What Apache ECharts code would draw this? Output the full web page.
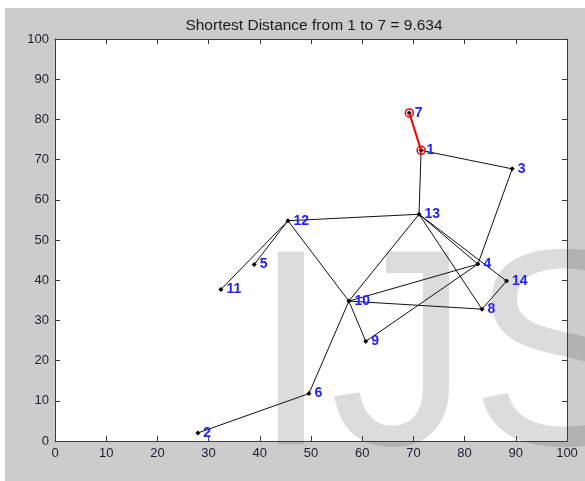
<!DOCTYPE html>
<html>
<head>
<meta charset="utf-8">
<script src="https://cdn.jsdelivr.net/npm/echarts@6/dist/echarts.min.js"></script>
<style>
  html, body { margin: 0; padding: 0; background: #fff; }
  #chart { position: absolute; left: 5px; top: 8px; width: 580px; height: 473px; background: #cccccc; }
</style>
</head>
<body>
<div id="chart"></div>
<script>
// node coordinates
const nodeNames = ['1', '2', '3', '4', '5', '6', '7', '8', '9', '10', '11', '12', '13', '14'];
const nodeX = [71.5, 27.9, 89.3, 82.6, 38.9, 49.6, 69.2, 83.4, 60.7, 57.4, 32.4, 45.5, 71.1, 88.2];
const nodeY = [72.3, 2.0, 67.7, 44.0, 43.9, 11.8, 81.6, 32.8, 24.8, 34.8, 37.7, 54.8, 56.4, 39.8];

// edges as pairs of node names
const edges = [
  ['1', '3'], ['1', '13'], ['1', '7'], ['3', '4'],
  ['13', '12'], ['13', '10'], ['13', '4'], ['13', '14'], ['13', '8'],
  ['12', '5'], ['12', '11'], ['12', '10'],
  ['4', '10'], ['4', '9'], ['10', '8'], ['10', '9'], ['10', '6'],
  ['8', '14'], ['6', '2']
];

// shortest path
const pathNodes = ['1', '7'];
const titleText = 'Shortest Distance from 1 to 7 = 9.634';
const tickLabels = ['0', '10', '20', '30', '40', '50', '60', '70', '80', '90', '100'];

const chart = echarts.init(document.getElementById('chart'), undefined, { renderer: 'canvas' });

const nodes = nodeNames.map((n, i) => ({ name: n, value: [nodeX[i], nodeY[i]] }));
const links = edges.map(e => ({ source: e[0], target: e[1] }));
const pathData = pathNodes.map(n => {
  const i = nodeNames.indexOf(n);
  return [nodeX[i], nodeY[i]];
});

const fontFam = '"Liberation Sans", Arial, sans-serif';
const axisCol = '#3a3a3a';
const labelCol = '#1e1e2a';

function axisBase(extra) {
  return Object.assign({
    type: 'value', min: 0, max: 100, interval: 10,
    axisLine: { show: true, onZero: false, lineStyle: { color: axisCol, width: 1 } },
    axisTick: { show: true, inside: true, length: 5, lineStyle: { color: axisCol } },
    splitLine: { show: false }
  }, extra);
}

chart.setOption({
  backgroundColor: 'transparent',
  animation: false,
  title: {
    text: titleText, left: 304, top: 5, textAlign: 'center',
    textStyle: { color: '#1a1a1a', fontSize: 15.5, fontWeight: 'normal', fontFamily: fontFam }
  },
  grid: { left: 50, right: 18, top: 31, bottom: 40, show: true, backgroundColor: '#ffffff', borderWidth: 0 },
  graphic: [{
    type: 'text', z: 0, z2: 5, silent: true,
    x: 247, y: 219,
    style: {
      text: 'IJS', fill: 'rgba(60,60,60,0.18)',
      font: '280px "Liberation Sans", Arial, sans-serif',
      verticalAlign: 'top'
    }
  }],
  xAxis: [
    axisBase({
      position: 'bottom',
      axisLabel: { color: labelCol, fontSize: 13, fontFamily: fontFam, margin: 6,
        formatter: (v) => tickLabels[Math.round(v / 10)] }
    }),
    axisBase({ position: 'top', axisLabel: { show: false } })
  ],
  yAxis: [
    axisBase({
      position: 'left',
      axisLabel: { color: labelCol, fontSize: 13, fontFamily: fontFam, margin: 6,
        formatter: (v) => tickLabels[Math.round(v / 10)] }
    }),
    axisBase({ position: 'right', axisLabel: { show: false } })
  ],
  series: [
    {
      type: 'graph', coordinateSystem: 'cartesian2d', layout: 'none',
      xAxisIndex: 0, yAxisIndex: 0, z: 2,
      data: nodes, links: links,
      symbol: 'diamond', symbolSize: 5,
      itemStyle: { color: '#000' },
      lineStyle: { color: '#111', width: 1, opacity: 1, curveness: 0 },
      label: {
        show: true, position: 'right', distance: 3, formatter: '{b}',
        color: '#2222ff', fontSize: 14, fontWeight: 'bold', fontFamily: fontFam
      },
      emphasis: { disabled: true }
    },
    {
      type: 'line', z: 3, data: pathData,
      lineStyle: { color: '#ff0000', width: 2 },
      symbol: 'circle', symbolSize: 8,
      itemStyle: { color: 'rgba(0,0,0,0)', borderColor: '#ff0000', borderWidth: 1.5 },
      emphasis: { disabled: true }
    }
  ]
});
</script>
</body>
</html>
